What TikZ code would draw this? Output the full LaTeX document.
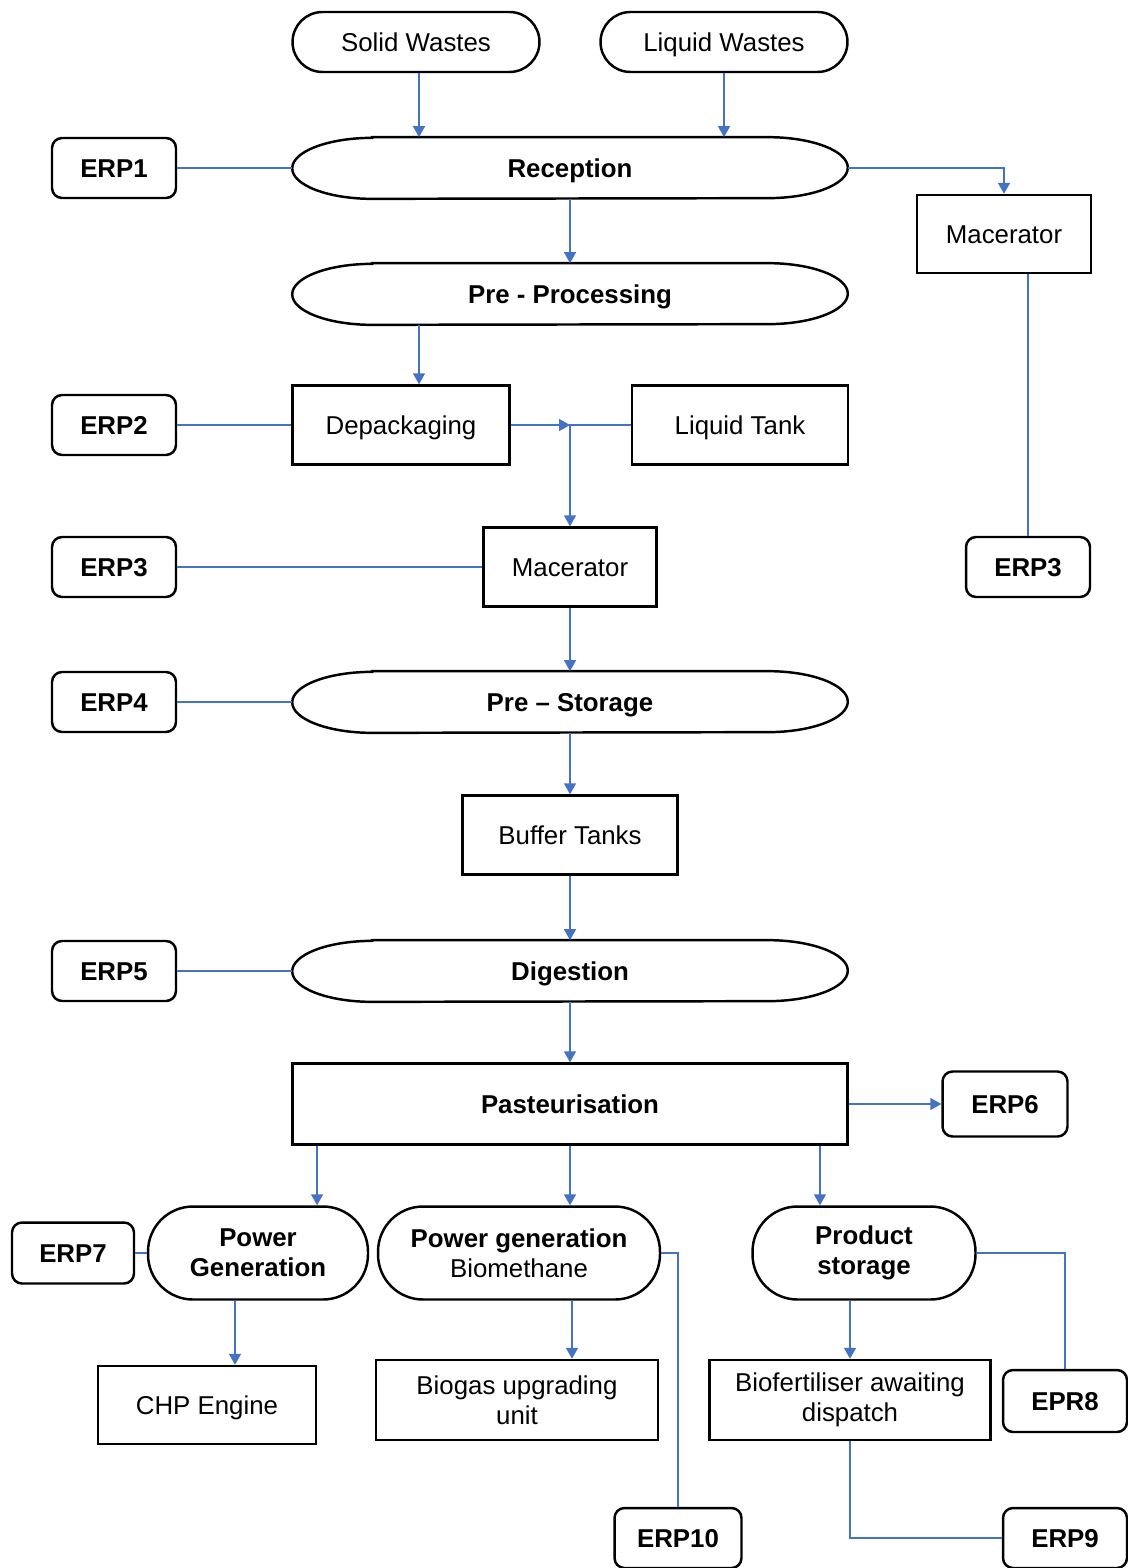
\documentclass[tikz,border=0pt]{standalone}
\usepackage{fontspec}
\setmainfont{Liberation Sans}
\usetikzlibrary{arrows.meta,positioning}
\definecolor{flowblue}{RGB}{68,114,196}

\begin{document}
\begin{tikzpicture}[x=0.02cm,y=-0.02cm,font=\fontsize{14.7}{17}\selectfont,
       >={Triangle[width=0.24cm,length=0.22cm]}]
       \tikzstyle{box}=[draw,line width=1.4pt,inner sep=0pt,align=center]
       \tikzstyle{oneline}=[text height=10.5pt,text depth=0pt]
       \tikzstyle{waste}=[box,oneline,rounded corners=0.6cm,minimum width=4.94cm,minimum height=1.2cm]
       \tikzstyle{stage}=[oneline,inner sep=0pt,minimum width=11.1cm,minimum height=1.22cm,font=\fontsize{14.7}{17}\selectfont\bfseries]
       \tikzstyle{unit}=[box,minimum height=1.58cm]
       \tikzstyle{route}=[box,rounded corners=0.9cm,minimum height=1.86cm]
       \tikzstyle{erp}=[box,oneline,rounded corners=0.2cm,minimum width=2.48cm,minimum height=1.2cm,font=\fontsize{14.7}{17}\selectfont\bfseries]
       \tikzstyle{flow}=[flowblue,line width=0.9pt]
       \tikzstyle{hv}=[to path={-| (\tikztotarget)}]
       \tikzstyle{vh}=[to path={|- (\tikztotarget)}]

       \useasboundingbox (0,0) rectangle (1127,1568);

       % inputs and main line
       \node[waste] (solid)  at (416,42)  {Solid Wastes};
       \node[waste] (liquid) at (724,42)  {Liquid Wastes};
       \node[stage] (recep)  at (570,168) {Reception};
       \node[stage] (prep)   at (570,294) {Pre - Processing};
       \node[unit,oneline,minimum width=4.34cm] (dep)  at (401,425) {Depackaging};
       \node[unit,oneline,minimum width=4.32cm] (tank) at (740,425) {Liquid Tank};
       \node[unit,oneline,minimum width=3.46cm] (mac)  at (570,567) {Macerator};
       \node[unit,oneline,minimum width=3.48cm,minimum height=1.56cm] (macr) at (1004,234) {Macerator};
       \node[stage] (prest)  at (570,702) {Pre – Storage};
       \node[unit,oneline,minimum width=4.3cm] (buffer) at (570,835) {Buffer Tanks};
       \node[stage] (dig)    at (570,971) {Digestion};
       \node[box,oneline,minimum width=11.1cm,minimum height=1.62cm,font=\fontsize{14.7}{17}\selectfont\bfseries]
             (past) at (570,1104) {Pasteurisation};

       % outputs
       \node[route,minimum width=4.4cm]  (pgen)   at (258,1253) {\bfseries Power\\\bfseries Generation};
       \node[route,minimum width=5.64cm] (pbio)   at (519,1253) {\bfseries Power generation\\Biomethane};
       \node[route,minimum width=4.46cm] (pstore) at (864,1253) {\bfseries Product\\\bfseries storage};
       \node[unit,oneline,minimum width=4.36cm,minimum height=1.56cm] (chp) at (207,1405) {CHP Engine};
       \node[unit,minimum width=5.64cm,minimum height=1.6cm] (biogas)  at (517,1400) {Biogas upgrading\\unit};
       \node[unit,minimum width=5.62cm,minimum height=1.6cm] (biofert) at (850,1400) {Biofertiliser awaiting\\dispatch};

       % emergency response points
       \node[erp] (erp1)  at (114,168)  {ERP1};
       \node[erp] (erp2)  at (114,425)  {ERP2};
       \node[erp] (erp3)  at (114,567)  {ERP3};
       \node[erp] (erp3r) at (1028,567) {ERP3};
       \node[erp] (erp4)  at (114,702)  {ERP4};
       \node[erp] (erp5)  at (114,971)  {ERP5};
       \node[erp,minimum width=2.5cm,minimum height=1.3cm] (erp6) at (1005,1104) {ERP6};
       \node[erp,minimum width=2.44cm,minimum height=1.22cm] (erp7) at (73,1253) {ERP7};
       \node[erp,minimum height=1.24cm] (epr8) at (1065,1401) {EPR8};
       \node[erp] (erp9)  at (1065,1538) {ERP9};
       \node[erp,minimum width=2.54cm] (erp10) at (678,1538) {ERP10};

       % elliptic ends of the stage outlines
       \foreach \n in {recep,prep,prest,dig}
         \draw[line width=1.4pt] ([xshift=1.6cm]\n.north west) -- ([xshift=-1.6cm]\n.north east)
           arc[start angle=90,end angle=-90,x radius=1.6cm,y radius=0.61cm]
           -- ([xshift=1.6cm]\n.south west)
           arc[start angle=270,end angle=90,x radius=1.6cm,y radius=0.61cm] -- cycle;

       % flow
       \path[flow,->]
       ([xshift=0.06cm]solid.south) edge ([xshift=0.06cm]solid.south |- recep.north)
       (liquid.south) edge (liquid.south |- recep.north)
       (recep.east) edge [hv] (macr.north)
       (recep.south) edge (prep.north)
       ([xshift=0.36cm]dep.north |- prep.south) edge ([xshift=0.36cm]dep.north)
       (dep.east) edge (dep.east -| mac.north)
       (tank.west) edge [hv] (mac.north)
       (mac.south) edge (prest.north)
       (prest.south) edge (buffer.north)
       (buffer.south) edge (dig.north)
       (dig.south) edge (past.north)
       (past.east) edge (erp6.west)
       ([xshift=-5.06cm]past.south) edge ([xshift=-5.06cm]past.south |- pgen.north)
       (past.south) edge (past.south |- pbio.north)
       ([xshift=5cm]past.south) edge ([xshift=5cm]past.south |- pstore.north)
       ([xshift=0.56cm]chp.north |- pgen.south) edge ([xshift=0.56cm]chp.north)
       ([xshift=1.1cm]biogas.north |- pbio.south) edge ([xshift=1.1cm]biogas.north)
       (biofert.north |- pstore.south) edge (biofert.north);

       \path[flow]
       (erp1) edge (recep.west)
       (erp2) edge (dep)
       (erp3) edge (mac)
       (erp4) edge (prest.west)
       (erp5) edge (dig.west)
       (erp7) edge (pgen)
       (erp3r.north |- macr.south) edge (erp3r.north)
       (pbio.east) edge [hv] (erp10.north)
       (pstore.east) edge [hv] (epr8.north)
       (biofert.south) edge [vh] (erp9.west);
\end{tikzpicture}
\end{document}
